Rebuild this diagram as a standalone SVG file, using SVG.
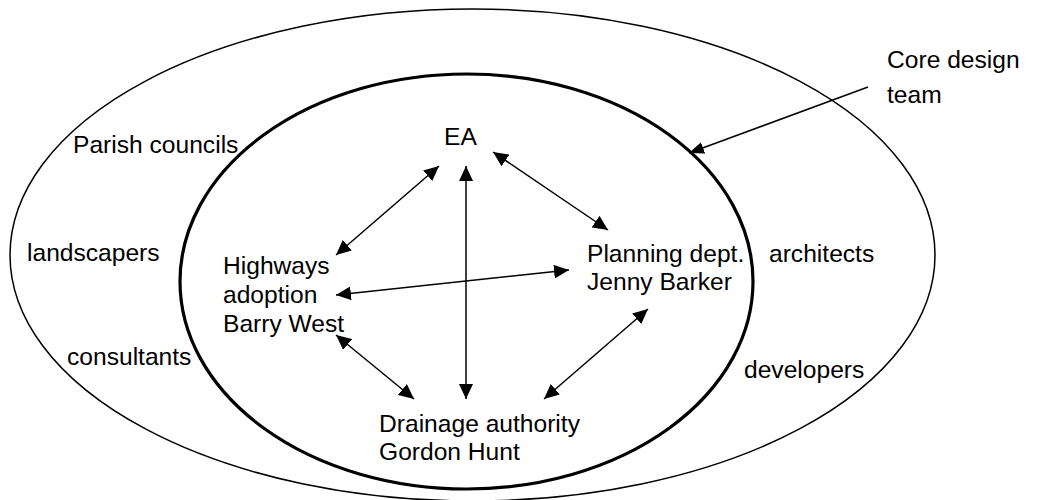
<svg xmlns="http://www.w3.org/2000/svg" width="1038" height="500" viewBox="0 0 1038 500">
<style>
text{font-family:"Liberation Sans",Arial,sans-serif;font-size:24.6px;fill:#000}
.ring{fill:none;stroke:#000}
.conn{fill:none;stroke:#000;stroke-width:1.5}
</style>
<defs>
<marker id="ah" viewBox="0 0 15 14" refX="15" refY="7" markerWidth="15" markerHeight="14" markerUnits="userSpaceOnUse" orient="auto-start-reverse">
<path d="M0,0 L15,7 L0,14 z" fill="#000"/>
</marker>
<marker id="ah2" viewBox="0 0 15 12" refX="15" refY="6" markerWidth="15" markerHeight="12" markerUnits="userSpaceOnUse" orient="auto">
<path d="M0,0 L15,6 L0,12 z" fill="#000"/>
</marker>
</defs>
<rect width="1038" height="500" fill="#fff"/>
<g id="outer">
<ellipse class="ring" cx="472.5" cy="255" rx="462.5" ry="246" stroke-width="1.5"/>
<text x="73" y="153">Parish councils</text>
<text x="27" y="261">landscapers</text>
<text x="67" y="365">consultants</text>
<text x="769" y="262">architects</text>
<text x="744" y="378">developers</text>
</g>
<g id="core">
<ellipse class="ring" cx="466.5" cy="281.5" rx="286.5" ry="207.5" stroke-width="3.2"/>
</g>
<g id="core-label">
<text x="887" y="68">Core design</text>
<text x="887" y="103">team</text>
</g>
<g id="ea"><text x="444" y="145">EA</text></g>
<g id="highways">
<text x="223" y="274">Highways</text>
<text x="223" y="303">adoption</text>
<text x="223" y="332">Barry West</text>
</g>
<g id="planning">
<text x="587" y="262">Planning dept.</text>
<text x="587" y="290">Jenny Barker</text>
</g>
<g id="drainage">
<text x="379" y="432">Drainage authority</text>
<text x="379" y="460">Gordon Hunt</text>
</g>
<g id="connectors">
<path class="conn" d="M868,87 L689,153" marker-end="url(#ah2)"/>
<path class="conn" d="M439,166 L336,255" marker-start="url(#ah)" marker-end="url(#ah)"/>
<path class="conn" d="M466,166 L466,399" marker-start="url(#ah)" marker-end="url(#ah)"/>
<path class="conn" d="M493,152 L608,230" marker-start="url(#ah)" marker-end="url(#ah)"/>
<path class="conn" d="M336,295 L569,270" marker-start="url(#ah)" marker-end="url(#ah)"/>
<path class="conn" d="M336,335 L414,399" marker-start="url(#ah)" marker-end="url(#ah)"/>
<path class="conn" d="M648,309 L544,399" marker-start="url(#ah)" marker-end="url(#ah)"/>
</g>
</svg>
